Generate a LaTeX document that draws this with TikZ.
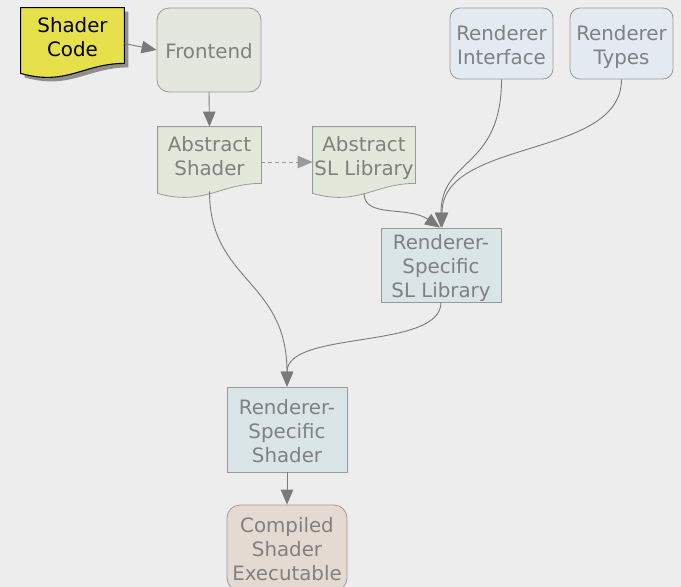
\documentclass[tikz,border=0pt]{standalone}
\usepackage{fontspec}
\setmainfont{DejaVu Sans}
\usetikzlibrary{arrows.meta,calc}
\definecolor{bg}{HTML}{EDEDED}
\definecolor{codefill}{HTML}{E6E04A}
\definecolor{frontfill}{HTML}{E3E7DE}
\definecolor{absfill}{HTML}{E2E8DA}
\definecolor{rintfill}{HTML}{E3EAF2}
\definecolor{rsfill}{HTML}{D9E5E7}
\definecolor{compfill}{HTML}{E5DAD2}
\definecolor{boxline}{HTML}{9A9A9A}
\definecolor{txt}{HTML}{808080}
\definecolor{ln}{HTML}{7A7A7A}
\definecolor{shadowc}{HTML}{8E8E8E}
\pgfdeclarelayer{bglayer}
\pgfdeclarelayer{background}
\pgfsetlayers{bglayer,background,main}
\newcommand\nfont{\fontsize{19.8}{24}\selectfont}
\newcommand\tl[1]{\raisebox{-4pt}[\height][\depth]{\begin{tabular}{@{}c@{}}#1\end{tabular}}}
% document shape: name, options, dx, dy
\newcommand\docshape[4]{%
  \path[#2] ($(#1.north west)+(#3,#4)$) -- ($(#1.north east)+(#3,#4)$) -- ($(#1.south east)+(#3,#4)$)
    .. controls ($(#1.south east)+(-41+#3,#4)$) and ($(#1.south west)+(46+#3,23+#4)$) ..
    ($(#1.south west)+(#3,10+#4)$) -- cycle;}
\begin{document}
\begin{tikzpicture}[x=1pt,y=-1pt,
  box/.style={draw=boxline, line width=0.8pt, text=txt, inner sep=0pt, font=\nfont},
  rbox/.style={box, rounded corners=12pt},
  docnode/.style={box, draw=none},
  edge/.style={draw=ln, line width=0.9pt, -{Triangle[length=15pt,width=12.5pt]}},
  dashedge/.style={edge, dashed, dash pattern=on 4pt off 3pt, draw=boxline}
]
\begin{pgfonlayer}{bglayer}
\fill[bg] (0,0) rectangle (681,587);
\end{pgfonlayer}
\useasboundingbox (0,0) rectangle (681,587);

% nodes
\node[docnode, text=black, minimum width=103pt, minimum height=55pt] (code) at (72.5,35.5) {\tl{Shader\\Code}};
\node[rbox, fill=frontfill, minimum width=104pt, minimum height=84pt] (front) at (209,50) {\tl{Frontend}};
\node[docnode, minimum width=103pt, minimum height=56pt] (ashader) at (209.5,155) {\tl{Abstract\\Shader}};
\node[docnode, minimum width=102pt, minimum height=56pt] (asl) at (364,155) {\tl{Abstract\\SL Library}};
\node[rbox, rounded corners=10pt, fill=rintfill, minimum width=103pt, minimum height=71pt] (rint) at (501.5,43.5) {\tl{Renderer\\Interface}};
\node[rbox, rounded corners=10pt, fill=rintfill, minimum width=103pt, minimum height=71pt] (rtyp) at (621.5,43.5) {\tl{Renderer\\Types}};
\node[box, fill=rsfill, minimum width=120pt, minimum height=74pt] (rssl) at (441,265) {\tl{Renderer-\\Specific\\SL Library}};
\node[box, fill=rsfill, minimum width=120pt, minimum height=85pt] (rss) at (287,429.5) {\tl{Renderer-\\Specific\\Shader}};
\node[rbox, rounded corners=13pt, fill=compfill, minimum width=120pt, minimum height=86pt] (comp) at (287,548) {\tl{Compiled\\Shader\\Executable}};

\begin{pgfonlayer}{background}
\docshape{code}{fill=shadowc}{4}{4}
\docshape{code}{fill=codefill, draw=black, line width=1.1pt}{0}{0}
\docshape{ashader}{fill=absfill, draw=boxline, line width=0.8pt}{0}{0}
\docshape{asl}{fill=absfill, draw=boxline, line width=0.8pt}{0}{0}
\end{pgfonlayer}

% connectors
\draw[edge] ([yshift=-8pt]code.east) -- (front.west);
\draw[edge] (front.south) -- (ashader.north);
\draw[dashedge] ([yshift=-7pt]ashader.east) -- ([yshift=-7pt]asl.west);
\draw[edge] (rint.south) .. controls +(0,90) and +(0,-70) .. (rssl.north);
\draw[edge] (rtyp.south) .. controls +(0,80) and +(0,-90) .. ([xshift=1pt]rssl.north);
\draw[edge] ([yshift=-10pt]asl.south) .. controls +(0,25) and +(-32,-22) .. ([xshift=-1pt]rssl.north);
\draw[edge] ([yshift=-8pt]ashader.south) .. controls +(0,90) and +(0,-107) .. (rss.north);
\draw[edge] (rssl.south) .. controls +(0,48) and +(0,-57) .. (rss.north);
\draw[edge] (rss.south) -- (comp.north);
\end{tikzpicture}
\end{document}
